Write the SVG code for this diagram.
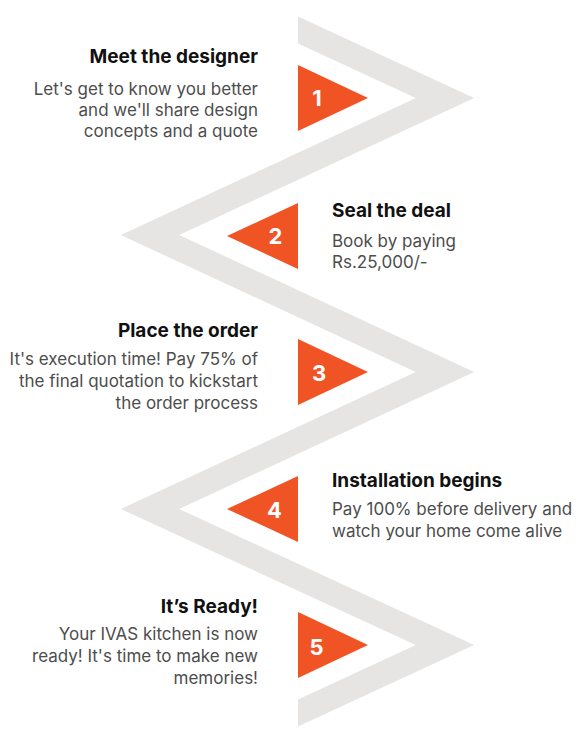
<svg xmlns="http://www.w3.org/2000/svg" width="585" height="749" viewBox="0 0 585 749">
<style>
.band{fill:#e6e5e3}
.tri{fill:#f05324}
.num{font-family:Inter,"Liberation Sans",sans-serif;font-weight:700;font-size:22px;fill:#fff;text-anchor:middle}
.title{font-family:Inter,"Liberation Sans",sans-serif;font-weight:700;font-size:19px;fill:#111}
.body{font-family:Inter,"Liberation Sans",sans-serif;font-weight:400;font-size:17px;fill:#4d4d4d}
.r{text-anchor:end}
</style>
<rect width="585" height="749" fill="#fff"/>
<g id="connectors">
<polygon class="band" points="298,16.5 474.2,98 179.2,235 474.2,372 179.2,509 474.2,645 298,726.5 298,699.5 415.8,645 120.8,509 415.8,372 120.8,235 415.8,98 298,43.5"/>
</g>
<g id="step1">
<polygon class="tri" points="298,65 368,98 298,131"/>
<text class="num" x="317" y="106">1</text>
<text class="title r" x="258" y="63">Meet the designer</text>
<text class="body r" x="258" y="95">Let's get to know you better</text>
<text class="body r" x="258" y="116">and we'll share design</text>
<text class="body r" x="258" y="137">concepts and a quote</text>
</g>
<g id="step2">
<polygon class="tri" points="298,203 227,236 298,269"/>
<text class="num" x="275.5" y="244">2</text>
<text class="title" x="332" y="217">Seal the deal</text>
<text class="body" x="332" y="247">Book by paying</text>
<text class="body" x="332" y="268">Rs.25,000/-</text>
</g>
<g id="step3">
<polygon class="tri" points="298,339 368,372 298,405"/>
<text class="num" x="319" y="381">3</text>
<text class="title r" x="258" y="337">Place the order</text>
<text class="body r" x="258" y="365">It's execution time! Pay 75% of</text>
<text class="body r" x="258" y="387">the final quotation to kickstart</text>
<text class="body r" x="258" y="409">the order process</text>
</g>
<g id="step4">
<polygon class="tri" points="298,476 227,509 298,542"/>
<text class="num" x="274.5" y="518">4</text>
<text class="title" x="332" y="487">Installation begins</text>
<text class="body" x="332" y="515">Pay 100% before delivery and</text>
<text class="body" x="332" y="537">watch your home come alive</text>
</g>
<g id="step5">
<polygon class="tri" points="298,612 368,645 298,678"/>
<text class="num" x="316.5" y="655">5</text>
<text class="title r" x="258" y="613">It’s Ready!</text>
<text class="body r" x="258" y="640">Your IVAS kitchen is now</text>
<text class="body r" x="258" y="662">ready! It's time to make new</text>
<text class="body r" x="258" y="684">memories!</text>
</g>
</svg>
